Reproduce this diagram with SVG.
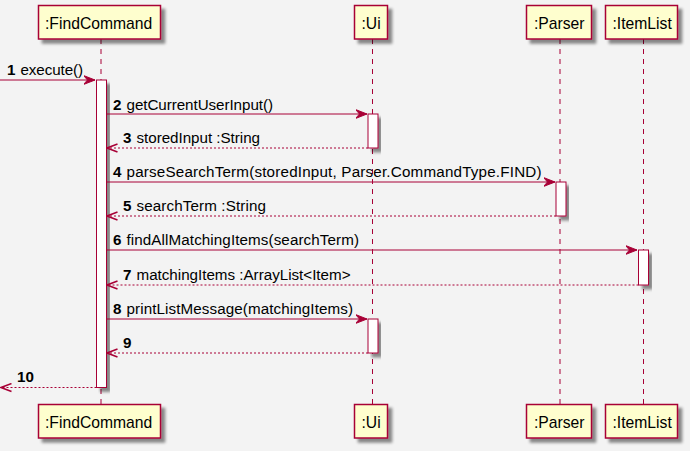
<svg xmlns="http://www.w3.org/2000/svg" width="690" height="451" viewBox="0 0 690 451">
<style>
.box{fill:#FEFECE;stroke:#A80036;stroke-width:1.5;filter:url(#sh)}
.act{fill:#FFFFFF;stroke:#A80036;stroke-width:1;filter:url(#sh)}
.life{stroke:#A80036;stroke-width:1;stroke-dasharray:5,5;fill:none}
.msg{stroke:#A80036;stroke-width:1;fill:none;marker-end:url(#ah)}
.ret{stroke:#A80036;stroke-width:1;fill:none;stroke-dasharray:2,2;marker-end:url(#rh)}
.pt{font-family:"Liberation Sans",Arial,sans-serif;font-size:15.7px;fill:#000}
.ml{font-family:"Liberation Sans",Arial,sans-serif;font-size:15.2px;fill:#000}
.num{font-family:"Liberation Sans",Arial,sans-serif;font-size:15.2px;font-weight:bold;fill:#000}
</style>
<defs>
<filter id="sh" x="-20%" y="-20%" width="150%" height="150%">
<feGaussianBlur in="SourceAlpha" stdDeviation="1.5"/>
<feOffset dx="4" dy="4" result="o"/>
<feComponentTransfer><feFuncA type="linear" slope="0.45"/></feComponentTransfer>
<feMerge><feMergeNode/><feMergeNode in="SourceGraphic"/></feMerge>
</filter>
<marker id="ah" viewBox="0 0 12 10" refX="11.5" refY="5" markerWidth="12" markerHeight="10" markerUnits="userSpaceOnUse" orient="auto">
<path d="M0,0.5 L11.5,5 L0,9.5 L4,5 Z" fill="#A80036" stroke="#A80036" stroke-width="1"/>
</marker>
<marker id="rh" viewBox="0 0 12 10" refX="11" refY="5" markerWidth="12" markerHeight="10" markerUnits="userSpaceOnUse" orient="auto">
<path d="M0.5,1 L11,5 L0.5,9" fill="none" stroke="#A80036" stroke-width="1.5" stroke-dasharray="none"/>
</marker>
</defs>
<rect width="690" height="451" fill="#F3F3F3"/>
<g id="lifelines">
<line class="life" x1="101" y1="39" x2="101" y2="404"/>
<line class="life" x1="372.5" y1="39" x2="372.5" y2="404"/>
<line class="life" x1="560" y1="39" x2="560" y2="404"/>
<line class="life" x1="643.5" y1="39" x2="643.5" y2="404"/>
</g>
<g id="FindCommand">
<rect class="box" x="38.5" y="5.5" width="122" height="33.5"/>
<text class="pt" x="45" y="29">:FindCommand</text>
<rect class="box" x="38.5" y="404.5" width="122" height="33.5"/>
<text class="pt" x="45" y="428">:FindCommand</text>
<rect class="act" x="96.5" y="80" width="10" height="307.5"/>
</g>
<g id="Ui">
<rect class="box" x="354.5" y="5.5" width="33" height="33.5"/>
<text class="pt" x="361.5" y="29">:Ui</text>
<rect class="box" x="354.5" y="404.5" width="33" height="33.5"/>
<text class="pt" x="361.5" y="428">:Ui</text>
<rect class="act" x="368" y="114" width="10" height="34"/>
<rect class="act" x="368" y="319" width="10" height="34"/>
</g>
<g id="Parser">
<rect class="box" x="526.5" y="5.5" width="65" height="33.5"/>
<text class="pt" x="534" y="29">:Parser</text>
<rect class="box" x="526.5" y="404.5" width="65" height="33.5"/>
<text class="pt" x="534" y="428">:Parser</text>
<rect class="act" x="556" y="182" width="10" height="34"/>
</g>
<g id="ItemList">
<rect class="box" x="605.5" y="5.5" width="72" height="33.5"/>
<text class="pt" x="612.5" y="29">:ItemList</text>
<rect class="box" x="605.5" y="404.5" width="72" height="33.5"/>
<text class="pt" x="612.5" y="428">:ItemList</text>
<rect class="act" x="638.5" y="250" width="10" height="35"/>
</g>
<g id="connectors">
<line class="msg" x1="0" y1="80" x2="95" y2="80"/>
<text class="num" x="7" y="75">1</text><text class="ml" x="20.5" y="75" textLength="62.5" lengthAdjust="spacing">execute()</text>
<line class="msg" x1="106.5" y1="114" x2="367" y2="114"/>
<text class="num" x="113" y="109.5">2</text><text class="ml" x="126.5" y="109.5" textLength="146.5" lengthAdjust="spacing">getCurrentUserInput()</text>
<line class="ret" x1="368" y1="148" x2="107" y2="148"/>
<text class="num" x="123" y="143">3</text><text class="ml" x="136.5" y="143" textLength="123.5" lengthAdjust="spacing">storedInput :String</text>
<line class="msg" x1="106.5" y1="182" x2="555" y2="182"/>
<text class="num" x="113" y="177">4</text><text class="ml" x="126.5" y="177" textLength="415" lengthAdjust="spacing">parseSearchTerm(storedInput, Parser.CommandType.FIND)</text>
<line class="ret" x1="556" y1="216" x2="107" y2="216"/>
<text class="num" x="123" y="211">5</text><text class="ml" x="136.5" y="211" textLength="129.5" lengthAdjust="spacing">searchTerm :String</text>
<line class="msg" x1="106.5" y1="250" x2="637" y2="250"/>
<text class="num" x="113" y="245">6</text><text class="ml" x="126.5" y="245" textLength="232.5" lengthAdjust="spacing">findAllMatchingItems(searchTerm)</text>
<line class="ret" x1="638.5" y1="285" x2="107" y2="285"/>
<text class="num" x="123" y="280">7</text><text class="ml" x="136.5" y="280" textLength="214" lengthAdjust="spacing">matchingItems :ArrayList&lt;Item&gt;</text>
<line class="msg" x1="106.5" y1="319" x2="367" y2="319"/>
<text class="num" x="113" y="314">8</text><text class="ml" x="126.5" y="314" textLength="226.5" lengthAdjust="spacing">printListMessage(matchingItems)</text>
<line class="ret" x1="368" y1="353" x2="107" y2="353"/>
<text class="num" x="123" y="348">9</text>
<line class="ret" x1="96.5" y1="387.5" x2="1" y2="387.5"/>
<text class="num" x="17" y="382">10</text>
</g>
</svg>
